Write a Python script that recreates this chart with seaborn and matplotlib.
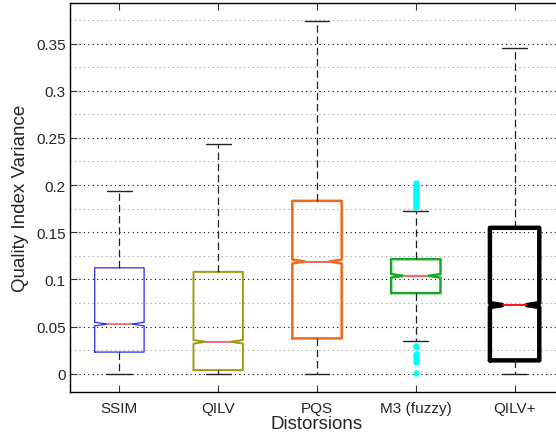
import numpy as np
import pandas as pd
import seaborn as sns
import matplotlib.pyplot as plt
from matplotlib.ticker import MultipleLocator, FuncFormatter

# five-number summaries, one entry per method
methods = ["SSIM", "QILV", "PQS", "M3 (fuzzy)", "QILV+"]
whisker_low = [0.0, 0.0, 0.0, 0.0346, 0.0]
quartile_1 = [0.0230, 0.0039, 0.0375, 0.0855, 0.0142]
medians = [0.0527, 0.0339, 0.1190, 0.1038, 0.0728]
quartile_3 = [0.1123, 0.1080, 0.1833, 0.1215, 0.1547]
whisker_high = [0.1935, 0.2440, 0.3744, 0.1721, 0.3450]
n_obs = [5500, 7500, 12000, 900, 11000]

m3_low_outliers = [0.0297, 0.0285, 0.0210, 0.0190, 0.0155, 0.0130, 0.0007]
m3_high_outliers = [0.1765, 0.1780, 0.1805, 0.1820, 0.1850, 0.1865, 0.1890,
                    0.1910, 0.1930, 0.1950, 0.1970, 0.1990, 0.2005, 0.2025]
outliers = [[], [], [], m3_low_outliers + m3_high_outliers, []]

box_colors = ["#2b2be8", "#9c9c10", "#ee6a1a", "#1aa82a", "#000000"]
box_lw = [0.9, 1.4, 1.8, 1.8, 3.2]
median_colors = ["#f06a6a", "#f06a6a", "#f25a5a", "#f06a6a", "#ff0000"]
median_lw = [1.3, 1.3, 1.3, 1.6, 1.3]


def rebuild_sample(i):
    # landmark values repeated so the quartiles and notch match the summary
    extra = outliers[i]
    k = (n_obs[i] - 2 - len(extra)) // 3
    vals = ([whisker_low[i]] + [quartile_1[i]] * k + [medians[i]] * k
            + [quartile_3[i]] * k + [whisker_high[i]] + extra)
    return pd.DataFrame({"method": methods[i], "value": vals})


df = pd.concat([rebuild_sample(i) for i in range(len(methods))], ignore_index=True)

sns.set_style("ticks")
plt.rcParams["font.family"] = ["Liberation Sans", "DejaVu Sans"]

fig = plt.figure(figsize=(5.56, 4.35), dpi=100)
ax = fig.add_axes([70 / 556, 1 - 392.7 / 435, 494 / 556, 388.7 / 435])

for i, name in enumerate(methods):
    sns.boxplot(data=df[df["method"] == name], x="method", y="value", order=methods,
                ax=ax, color=box_colors[i], fill=False, width=0.5, linewidth=box_lw[i],
                whis=1.5, shownotches=True,
                boxprops=dict(color=box_colors[i], linewidth=box_lw[i]),
                whiskerprops=dict(color="#222222", linestyle=(0, (6, 3)), linewidth=0.9),
                capprops=dict(color="#222222", linewidth=1.0),
                medianprops=dict(color=median_colors[i], linewidth=median_lw[i]),
                flierprops=dict(marker="o", markersize=3.6, markerfacecolor="#00ffff",
                                markeredgecolor="#00ffff"))

ax.set_xlim(-0.5, 4.5)
ax.set_ylim(-0.019, 0.393)
ax.yaxis.set_major_locator(MultipleLocator(0.05))
ax.yaxis.set_minor_locator(MultipleLocator(0.025))
ax.yaxis.set_major_formatter(FuncFormatter(lambda v, p: "0" if abs(v) < 1e-9 else f"{round(v, 3):g}"))
ax.set_axisbelow(True)
ax.grid(axis="y", which="major", color="black", linestyle=(0, (1, 3)), linewidth=0.8)
ax.grid(axis="y", which="minor", color="#9a9a9a", linestyle=(0, (1, 3)), linewidth=0.8)

for s in ax.spines.values():
    s.set_visible(True)
    s.set_color("black")
    s.set_linewidth(1.0)

ax.tick_params(axis="x", direction="in", top=True, length=5, width=0.8,
               labelsize=11, pad=7, color="#333333")
ax.tick_params(axis="y", which="major", direction="in", right=True, length=5,
               width=0.8, labelsize=11, pad=3, color="#333333")
ax.tick_params(axis="y", which="minor", length=0)

ax.set_xlabel("Distorsions", fontsize=13.5, labelpad=0)
ax.set_ylabel("Quality Index Variance", fontsize=13.5, labelpad=5)

fig.savefig("out.png", dpi=100)
